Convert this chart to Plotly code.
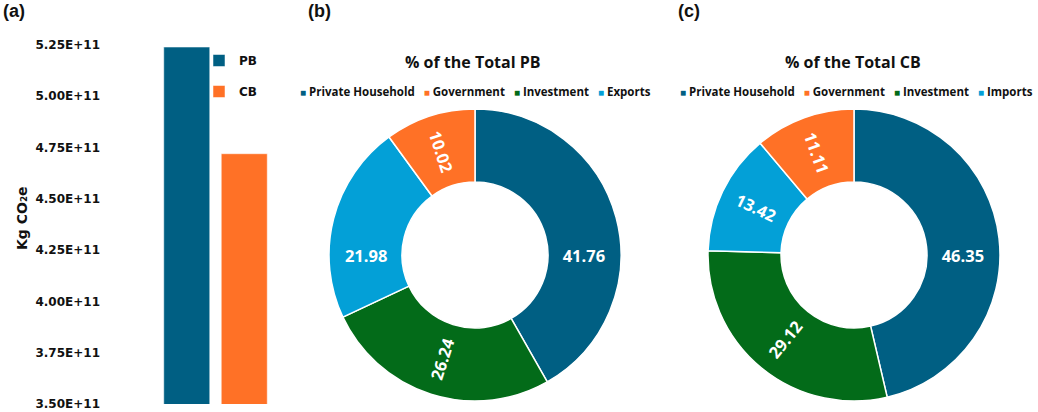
import plotly.graph_objs as go

W, H = 1038, 412

# Panel (a): totals
bar_names = ["PB", "CB"]
bar_totals = [5.24e11, 4.72e11]
y_ticks = [3.50e11, 3.75e11, 4.00e11, 4.25e11, 4.50e11, 4.75e11, 5.00e11, 5.25e11]

# Panels (b) and (c): shares, in clockwise order from 12 o'clock
pb_labels = ["Private Household", "Investment", "Exports", "Government"]
pb_shares = [41.76, 26.24, 21.98, 10.02]
cb_labels = ["Private Household", "Investment", "Imports", "Government"]
cb_shares = [46.35, 29.12, 13.42, 11.11]

# legend order as in the figure
pb_legend = ["Private Household", "Government", "Investment", "Exports"]
cb_legend = ["Private Household", "Government", "Investment", "Imports"]

colors = {
    "PB": "#005F83", "CB": "#FF7126",
    "Private Household": "#005F83", "Government": "#FF7126",
    "Investment": "#036B19", "Exports": "#03A0D7", "Imports": "#03A0D7",
}

# positions are given in pixels of the 1038x412 window
def fx(px):
    return px / W

def fy(py):
    return 1 - py / H

fig = go.Figure()

for i, name in enumerate(bar_names):
    fig.add_trace(go.Bar(
        x=[name], y=[bar_totals[i]], name=name,
        marker=dict(color=colors[name], line=dict(color="rgba(255,255,255,0.5)", width=1)),
        legendgroup=name, showlegend=True,
    ))

def donut(labels, shares, x0, x1):
    return go.Pie(
        labels=labels, values=shares, hole=0.5, sort=False,
        direction="clockwise", rotation=0,
        marker=dict(colors=[colors[l] for l in labels], line=dict(color="white", width=1.5)),
        texttemplate="%{value:.2f}", textposition="inside",
        insidetextorientation="radial",
        textfont=dict(family="Open Sans", size=16.5, color="white", weight="bold"),
        domain=dict(x=[fx(x0), fx(x1)], y=[fy(401), fy(109)]),
        showlegend=False,
    )

fig.add_trace(donut(pb_labels, pb_shares, 329, 621))
fig.add_trace(donut(cb_labels, cb_shares, 708, 1000))

def legend_text(labels):
    parts = [f"<span style='color:{colors[l]};font-size:10px'>■</span>\u00a0{l}" for l in labels]
    return "\u00a0\u00a0\u00a0".join(parts)

annotations = [
    dict(text="(a)", x=fx(1), y=fy(11), xanchor="left", font=dict(size=18, family="Liberation Sans")),
    dict(text="(b)", x=fx(306), y=fy(11), xanchor="left", font=dict(size=18, family="Liberation Sans")),
    dict(text="(c)", x=fx(676), y=fy(11), xanchor="left", font=dict(size=18, family="Liberation Sans")),
    dict(text="Kg CO₂e", x=fx(22), y=fy(218), textangle=-90,
         font=dict(size=14, family="DejaVu Sans")),
    dict(text="% of the Total PB", x=fx(473), y=fy(62), font=dict(size=16, family="Open Sans")),
    dict(text="% of the Total CB", x=fx(853), y=fy(62), font=dict(size=16, family="Open Sans")),
    dict(text=legend_text(pb_legend), x=fx(475), y=fy(91), font=dict(size=11.5, family="Open Sans")),
    dict(text=legend_text(cb_legend), x=fx(856), y=fy(91), font=dict(size=11.5, family="Open Sans")),
]
for a in annotations:
    a.update(xref="paper", yref="paper", showarrow=False, yanchor="middle")
    a.setdefault("xanchor", "center")
    a["font"].update(color="#111111", weight="bold")

fig.update_layout(
    width=W, height=H,
    margin=dict(l=0, r=0, t=0, b=0),
    paper_bgcolor="white", plot_bgcolor="white",
    bargap=0.2,
    xaxis=dict(domain=[fx(158), fx(273)], range=[-0.5, 1.5], showticklabels=False,
               showline=False, showgrid=False, zeroline=False, automargin=False),
    yaxis=dict(domain=[fy(404), fy(45)], range=[y_ticks[0], y_ticks[-1]],
               tickvals=y_ticks, ticktext=[f"{v:.2E}" for v in y_ticks],
               ticklabelstandoff=57, ticklabeloverflow="allow",
               showgrid=False, zeroline=False, showline=False, automargin=False,
               tickfont=dict(family="DejaVu Sans", size=12, color="#111111", weight="bold")),
    legend=dict(x=fx(199), y=fy(46), xanchor="left", yanchor="top",
                traceorder="grouped", tracegroupgap=12, bgcolor="rgba(0,0,0,0)",
                font=dict(family="DejaVu Sans", size=12, color="#111111", weight="bold")),
    annotations=annotations,
)

# page without the default body margin, so the figure fills the window
fig.write_html("out.html", config={"displayModeBar": False},
               post_script="document.body.style.margin='0';")
